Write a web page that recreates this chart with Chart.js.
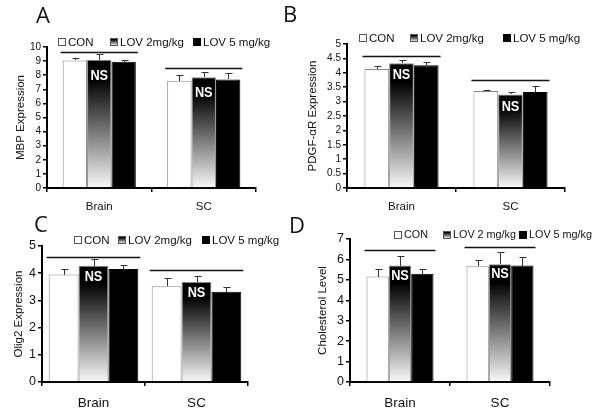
<!DOCTYPE html>
<html>
<head>
<meta charset="utf-8">
<script src="https://cdn.jsdelivr.net/npm/chart.js@4.4.0/dist/chart.umd.min.js"></script>
<style>
  body { margin: 0; background: #fff; }
  #wrap { position: relative; width: 601px; height: 415px; overflow: hidden; background: #fff; }
  canvas { position: absolute; }
  .letter { position: absolute; font-family: "Open Sans", sans-serif; font-size: 22px; line-height: 22px; color: #111; }
</style>
</head>
<body>
<div id="wrap">
  <canvas id="chartA" width="300" height="216" style="left:0;top:0"></canvas>
  <canvas id="chartB" width="301" height="216" style="left:300px;top:0"></canvas>
  <canvas id="chartC" width="300" height="205" style="left:0;top:210px"></canvas>
  <canvas id="chartD" width="301" height="205" style="left:300px;top:210px"></canvas>
  <div class="letter" style="left:36px;top:3px">A</div>
  <div class="letter" style="left:283px;top:2px">B</div>
  <div class="letter" style="left:34px;top:212px">C</div>
  <div class="letter" style="left:289px;top:213px">D</div>
</div>
<script>
const groups = ['Brain', 'SC'];
const legendNames = ['CON', 'LOV 2mg/kg', 'LOV 5 mg/kg'];
const legendNamesD = ['CON', 'LOV 2 mg/kg', 'LOV 5 mg/kg'];

// A: MBP expression
const mbpCon = [9.05, 7.6];
const mbpLov2 = [9.1, 7.85];
const mbpLov5 = [8.95, 7.7];
const mbpConErr = [0.2, 0.38];
const mbpLov2Err = [0.42, 0.35];
const mbpLov5Err = [0.1, 0.45];
const mbpBracket = [9.67, 8.49];

// B: PDGF-aR expression
const pdgfCon = [4.13, 3.37];
const pdgfLov2 = [4.33, 3.25];
const pdgfLov5 = [4.26, 3.33];
const pdgfConErr = [0.1, 0.05];
const pdgfLov2Err = [0.1, 0.1];
const pdgfLov5Err = [0.1, 0.22];
const pdgfBracket = [4.6, 3.76];

// C: Olig2 expression
const oligCon = [3.95, 3.52];
const oligLov2 = [4.27, 3.68];
const oligLov5 = [4.15, 3.32];
const oligConErr = [0.2, 0.3];
const oligLov2Err = [0.27, 0.23];
const oligLov5Err = [0.16, 0.18];
const oligBracket = [4.61, 4.12];

// D: cholesterol
const cholCon = [5.16, 5.66];
const cholLov2 = [5.7, 5.77];
const cholLov5 = [5.3, 5.7];
const cholConErr = [0.35, 0.3];
const cholLov2Err = [0.48, 0.6];
const cholLov5Err = [0.24, 0.4];
const cholBracket = [6.44, 6.59];

const FONT = '"Liberation Sans", Arial, sans-serif';

function paintFade(ctx, top, bottom) {
  const g = ctx.createLinearGradient(0, top, 0, bottom);
  g.addColorStop(0, '#000');
  g.addColorStop(0.15, '#000');
  g.addColorStop(1, '#f8f8f8');
  return g;
}

function fadeFill(context) {
  const chart = context.chart;
  if (!chart.chartArea || typeof context.raw !== 'number') return '#666';
  const y = chart.scales.y;
  return paintFade(chart.ctx, y.getPixelForValue(context.raw), y.getPixelForValue(0));
}

// error bars, brackets, NS text and the legend
function markings(p) {
  return {
    id: 'markings',
    afterDatasetsDraw(chart) {
      const ctx = chart.ctx;
      const y = chart.scales.y;
      ctx.save();

      chart.data.datasets.forEach((ds, i) => {
        chart.getDatasetMeta(i).data.forEach((bar, j) => {
          const top = Math.round(y.getPixelForValue(ds.data[j]));
          const hi = Math.round(y.getPixelForValue(ds.data[j] + ds.errors[j]));
          const x = Math.round(bar.x) + 0.5;
          ctx.strokeStyle = '#333';
          ctx.lineWidth = 1;
          ctx.beginPath();
          ctx.moveTo(x, top);
          ctx.lineTo(x, hi);
          ctx.moveTo(x - 3, hi + 0.5);
          ctx.lineTo(x + 4, hi + 0.5);
          ctx.stroke();
        });
      });

      const first = chart.getDatasetMeta(0).data;
      const mid = chart.getDatasetMeta(1).data;
      const last = chart.getDatasetMeta(2).data;
      groups.forEach((g, j) => {
        const yy = Math.round(y.getPixelForValue(p.bracket[j])) + 0.5;
        ctx.strokeStyle = '#111';
        ctx.lineWidth = 1.3;
        ctx.beginPath();
        ctx.moveTo(first[j].x - first[j].width / 2 - 2, yy);
        ctx.lineTo(last[j].x + last[j].width / 2 + 2, yy);
        ctx.stroke();

        // NS on the 2 mg/kg bar
        ctx.save();
        ctx.translate(mid[j].x, mid[j].y + p.nsOffset);
        ctx.scale(0.85, 1);
        ctx.font = 'bold 15px ' + FONT;
        ctx.textAlign = 'center';
        ctx.textBaseline = 'middle';
        ctx.lineWidth = 2;
        ctx.strokeStyle = '#000';
        ctx.strokeText('NS', 0, 0);
        ctx.fillStyle = '#fff';
        ctx.fillText('NS', 0, 0);
        ctx.restore();
      });

      // legend
      ctx.font = p.legendFont + 'px ' + FONT;
      ctx.textBaseline = 'middle';
      ctx.textAlign = 'left';
      p.names.forEach((name, i) => {
        const bx = p.legendX[i] + 0.5;
        const by = p.legendY - 3.5;
        if (i === 0) ctx.fillStyle = '#fff';
        else if (i === 1) ctx.fillStyle = paintFade(ctx, by, by + 7);
        else ctx.fillStyle = '#000';
        ctx.fillRect(bx, by, 7, 7);
        ctx.strokeStyle = i === 2 ? '#000' : '#555';
        ctx.lineWidth = 1;
        ctx.strokeRect(bx, by, 7, 7);
        ctx.fillStyle = '#111';
        ctx.fillText(name, p.legendX[i] + 10, p.legendY + 0.5);
      });
      ctx.restore();
    }
  };
}

function makePanel(id, p) {
  const datasets = [
    { label: p.names[0], data: p.con, errors: p.conErr, backgroundColor: '#fff', borderColor: '#8a8a8a', borderWidth: 1 },
    { label: p.names[1], data: p.lov2, errors: p.lov2Err, backgroundColor: fadeFill, borderColor: '#8a8a8a', borderWidth: 1 },
    { label: p.names[2], data: p.lov5, errors: p.lov5Err, backgroundColor: '#000', borderColor: '#000', borderWidth: 1 }
  ];
  new Chart(document.getElementById(id), {
    type: 'bar',
    data: { labels: groups, datasets: datasets },
    options: {
      responsive: false,
      animation: false,
      layout: { padding: { left: 0, top: p.padTop, right: p.padRight, bottom: 0 } },
      datasets: { bar: { categoryPercentage: p.barSpan, barPercentage: 1 } },
      plugins: { legend: { display: false }, tooltip: { enabled: false } },
      scales: {
        x: {
          grid: { drawOnChartArea: false, tickLength: 4, color: '#000', lineWidth: 1.5 },
          border: { color: '#000', width: 2 },
          ticks: { color: '#111', padding: p.xPad, font: { family: FONT, size: p.xFont } },
          afterFit: s => { s.height = p.xH; }
        },
        y: {
          min: 0,
          max: p.yMax,
          grid: { drawOnChartArea: false, tickLength: 4, color: '#000', lineWidth: 1.5 },
          border: { color: '#000', width: 2 },
          ticks: {
            stepSize: p.step, autoSkip: false, color: '#111', padding: 2,
            font: { family: FONT, size: p.yFont },
            callback: v => String(Math.round(v * 10) / 10)
          },
          title: { display: true, text: p.yTitle, color: '#111', padding: { top: p.titlePad, bottom: 0 }, font: { family: FONT, size: 11.5 } },
          afterFit: s => { s.width = p.yW; }
        }
      }
    },
    plugins: [markings(p)]
  });
}

makePanel('chartA', {
  names: legendNames, con: mbpCon, lov2: mbpLov2, lov5: mbpLov5,
  conErr: mbpConErr, lov2Err: mbpLov2Err, lov5Err: mbpLov5Err, bracket: mbpBracket,
  yMax: 10, step: 1, yTitle: 'MBP Expression',
  yW: 47, padTop: 47, padRight: 44, xH: 28, barSpan: 0.70,
  yFont: 10, xFont: 11.5, xPad: 8, titlePad: 14, nsOffset: 16,
  legendY: 42, legendX: [58, 110, 193], legendFont: 11.5
});

makePanel('chartB', {
  names: legendNames, con: pdgfCon, lov2: pdgfLov2, lov5: pdgfLov5,
  conErr: pdgfConErr, lov2Err: pdgfLov2Err, lov5Err: pdgfLov5Err, bracket: pdgfBracket,
  yMax: 5, step: 0.5, yTitle: 'PDGF-\u03b1R Expression',
  yW: 47, padTop: 44, padRight: 36, xH: 28, barSpan: 0.68,
  yFont: 10, xFont: 11.5, xPad: 8, titlePad: 6, nsOffset: 12,
  legendY: 38, legendX: [59, 110, 203], legendFont: 11.5
});

makePanel('chartC', {
  names: legendNames, con: oligCon, lov2: oligLov2, lov5: oligLov5,
  conErr: oligConErr, lov2Err: oligLov2Err, lov5Err: oligLov5Err, bracket: oligBracket,
  yMax: 5, step: 1, yTitle: 'Olig2 Expression',
  yW: 42, padTop: 36, padRight: 52, xH: 33, barSpan: 0.87,
  yFont: 12.5, xFont: 13.5, xPad: 9, titlePad: 12, nsOffset: 11,
  legendY: 30, legendX: [74, 118, 202], legendFont: 11.5
});

makePanel('chartD', {
  names: legendNamesD, con: cholCon, lov2: cholLov2, lov5: cholLov5,
  conErr: cholConErr, lov2Err: cholLov2Err, lov5Err: cholLov5Err, bracket: cholBracket,
  yMax: 7, step: 1, yTitle: 'Cholesterol Level',
  yW: 50, padTop: 29, padRight: 51, xH: 33, barSpan: 0.67,
  yFont: 12.5, xFont: 13.5, xPad: 9, titlePad: 16, nsOffset: 10,
  legendY: 25, legendX: [94, 143, 219], legendFont: 10.8
});
</script>
</body>
</html>
